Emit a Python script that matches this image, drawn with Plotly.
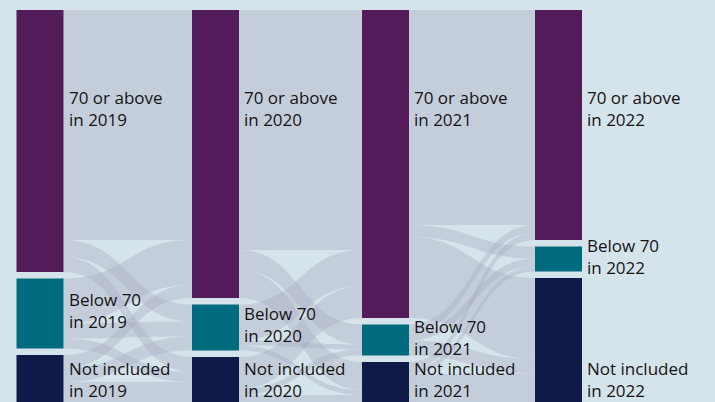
import plotly.graph_objects as go

years = ["2019", "2020", "2021", "2022"]
groups = ["70 or above", "Below 70", "Not included"]
group_colors = ["#531b59", "#006a7e", "#101a48"]

# Movements between groups; rows = group in earlier year, columns = group in later year
flows_2019_2020 = [[230, 17, 15], [45, 15, 10], [13, 14, 20]]
flows_2020_2021 = [[240, 20, 28], [36, 5, 5], [32, 6, 7]]
flows_2021_2022 = [[215, 12, 81], [8, 8, 15], [7, 5, 28]]

transitions = [flows_2019_2020, flows_2020_2021, flows_2021_2022]

W, H = 715, 402
M_TOP = 10
PLOT_H = H - M_TOP
PAD = 6.5
THICK = 47
col_centers_px = [40, 215.5, 385.5, 558.5]

n_g = len(groups)

# Node values per year (out-flow for the first years, in-flow for the last)
year_values = []
for t, m in enumerate(transitions):
    year_values.append([sum(row) for row in m])
last = transitions[-1]
year_values.append([sum(last[i][j] for i in range(n_g)) for j in range(n_g)])

col_total = max(sum(v) for v in year_values)
ky = (PLOT_H - (n_g - 1) * PAD) / col_total

node_x, node_y, node_color, node_top_bottom = [], [], [], []
for c, vals in enumerate(year_values):
    cum = 0.0
    for g, v in enumerate(vals):
        h = v * ky
        node_x.append(col_centers_px[c] / W)
        node_y.append((cum + h / 2) / PLOT_H)
        node_color.append(group_colors[g])
        node_top_bottom.append((M_TOP + cum, M_TOP + cum + h))
        cum += h + PAD

src, tgt, val = [], [], []
for t, m in enumerate(transitions):
    for i in range(n_g):
        for j in range(n_g):
            src.append(t * n_g + i)
            tgt.append((t + 1) * n_g + j)
            val.append(m[i][j])

fig = go.Figure(go.Sankey(
    arrangement="fixed",
    node=dict(
        label=[""] * len(node_x),
        x=node_x,
        y=node_y,
        color=node_color,
        pad=PAD,
        thickness=THICK,
        line=dict(width=0),
    ),
    link=dict(
        source=src,
        target=tgt,
        value=val,
        color="rgba(160,160,185,0.3)",
    ),
    hoverinfo="none",
    domain=dict(x=[0, 1], y=[0, 1]),
))

# Group labels beside each column
label_font = dict(family="Open Sans", size=17, color="#141414")
fixed_label_px = {0: 108, 2: 379.5}
annotations = []
for c, yr in enumerate(years):
    for g, name in enumerate(groups):
        top, bottom = node_top_bottom[c * n_g + g]
        py = fixed_label_px.get(g, (top + bottom) / 2 - 3)
        annotations.append(dict(
            x=(col_centers_px[c] + THICK / 2 + 4) / W,
            y=1 - (py - M_TOP) / PLOT_H,
            xref="paper", yref="paper",
            xanchor="left", yanchor="middle",
            align="left",
            showarrow=False,
            borderpad=0,
            text=f"{name}<br>in {yr}",
            font=label_font,
        ))

fig.update_layout(
    width=W, height=H,
    margin=dict(l=0, r=0, t=M_TOP, b=0),
    paper_bgcolor="#d5e3ea",
    plot_bgcolor="#d5e3ea",
    annotations=annotations,
    showlegend=False,
)

fig.write_html("out.html")
